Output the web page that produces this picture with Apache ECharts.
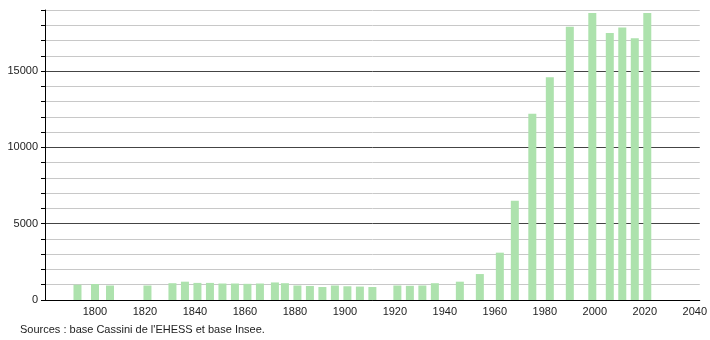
<!DOCTYPE html>
<html><head><meta charset="utf-8">
<script src="https://cdn.jsdelivr.net/npm/echarts@6/dist/echarts.min.js"></script>
<style>html,body{margin:0;padding:0;background:#fff}#c{width:710px;height:340px}</style>
</head><body><div id="c"></div>
<script>
const years = [1793,1800,1806,1821,1831,1836,1841,1846,1851,1856,1861,1866,1872,1876,1881,1886,1891,1896,1901,1906,1911,1921,1926,1931,1936,1946,1954,1962,1968,1975,1982,1990,1999,2006,2011,2016,2021];
const population = [1000,1050,950,950,1100,1200,1120,1120,1080,1080,1060,1080,1150,1100,950,920,850,950,900,880,850,950,930,950,1100,1200,1700,3100,6500,12200,14600,17900,18800,17500,17850,17150,18800];
const yLabels = [0,5000,10000,15000];
const xLabels = [1800,1820,1840,1860,1880,1900,1920,1940,1960,1980,2000,2020,2040];
const sourceText = "Sources : base Cassini de l'EHESS et base Insee.";

const chart = echarts.init(document.getElementById('c'), null, {renderer:'canvas'});
chart.setOption({
  animation:false,
  grid:{left:45,right:10,top:10,bottom:40,containLabel:false},
  title:{text:sourceText,left:15,top:319,textStyle:{fontFamily:'Liberation Sans, Arial, sans-serif',fontSize:11,fontWeight:'normal',color:'#222'}},
  xAxis:{type:'value',min:1780,max:2042,interval:20,
    axisLine:{show:true,lineStyle:{color:'#000',width:1}},
    axisTick:{show:false},
    splitLine:{show:false},
    axisLabel:{fontFamily:'Liberation Sans, Arial, sans-serif',fontSize:11,color:'#222',margin:6,
      formatter:v=>xLabels.indexOf(v)>=0?String(v):''}
  },
  yAxis:{type:'value',min:0,max:19000,interval:1000,
    axisLine:{show:true,lineStyle:{color:'#000',width:1}},
    axisTick:{show:true,length:4,lineStyle:{color:'#000'}},
    splitLine:{show:true,lineStyle:{color:['#444','#c8c8c8','#c8c8c8','#c8c8c8','#c8c8c8'],width:1}},
    axisLabel:{fontFamily:'Liberation Sans, Arial, sans-serif',fontSize:11,color:'#222',margin:7,
      formatter:v=>yLabels.indexOf(v)>=0?String(v):''}
  },
  series:[{type:'bar',barWidth:8,
    data:years.map((y,i)=>[y,population[i]]),
    itemStyle:{color:'#ade2ad'}
  }]
});
</script></body></html>
